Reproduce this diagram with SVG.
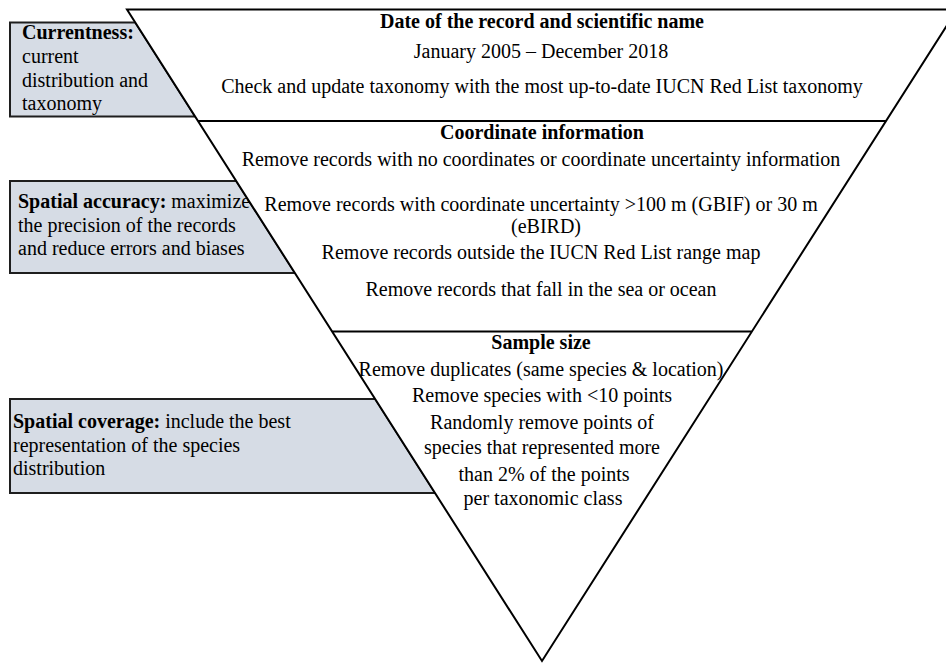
<svg xmlns="http://www.w3.org/2000/svg" width="946" height="665" viewBox="0 0 946 665" font-family="'Liberation Serif', 'Times New Roman', serif">
<style>
  text { font-family: "Liberation Serif", "Times New Roman", serif; font-size: 20px; fill: #000; }
  .b { font-weight: bold; }
  .c { text-anchor: middle; }
  .box { fill: #d6dce5; stroke: #1e1e1e; stroke-width: 2; }
  .edge { fill: none; stroke: #000; stroke-width: 2; }
</style>
<rect width="946" height="665" fill="#fff"/>

<g id="box-currentness">
  <polygon class="box" points="10,22.5 135.3,22.5 195.2,116.5 10,116.5"/>
  <text x="22" y="39" class="b">Currentness:</text>
  <text x="22" y="63">current</text>
  <text x="22" y="87">distribution and</text>
  <text x="22" y="110">taxonomy</text>
</g>

<g id="box-spatial-accuracy">
  <polygon class="box" points="10,181 236.3,181 295,273 10,273"/>
  <text x="18" y="208"><tspan class="b">Spatial accuracy:</tspan> maximize</text>
  <text x="18" y="232">the precision of the records</text>
  <text x="18" y="255">and reduce errors and biases</text>
</g>

<g id="box-spatial-coverage">
  <polygon class="box" points="10,399 375.3,399 435.2,493 10,493"/>
  <text x="13" y="428"><tspan class="b">Spatial coverage:</tspan> include the best</text>
  <text x="13" y="452">representation of the species</text>
  <text x="13" y="475">distribution</text>
</g>

<g id="funnel">
  <polygon class="edge" points="127,9.5 957,9.5 542,661" style="fill:#fff"/>
  <line class="edge" x1="198" y1="121" x2="886" y2="121"/>
  <line class="edge" x1="332.3" y1="331.5" x2="751.7" y2="331.5"/>
</g>

<g id="tier-date">
  <text x="542" y="28" class="c b">Date of the record and scientific name</text>
  <text x="541" y="58" class="c">January 2005 – December 2018</text>
  <text x="542" y="93" class="c">Check and update taxonomy with the most up-to-date IUCN Red List taxonomy</text>
</g>

<g id="tier-coordinates">
  <text x="542" y="139" class="c b">Coordinate information</text>
  <text x="541" y="166" class="c">Remove records with no coordinates or coordinate uncertainty information</text>
  <text x="541" y="211" class="c">Remove records with coordinate uncertainty &gt;100 m (GBIF) or 30 m</text>
  <text x="546" y="233" class="c">(eBIRD)</text>
  <text x="541" y="259" class="c">Remove records outside the IUCN Red List range map</text>
  <text x="541" y="296" class="c">Remove records that fall in the sea or ocean</text>
</g>

<g id="tier-sample">
  <text x="541" y="349" class="c b">Sample size</text>
  <text x="541" y="376" class="c">Remove duplicates (same species &amp; location)</text>
  <text x="542" y="402" class="c">Remove species with &lt;10 points</text>
  <text x="542" y="429" class="c">Randomly remove points of</text>
  <text x="542" y="454" class="c">species that represented more</text>
  <text x="544" y="481" class="c">than 2% of the points</text>
  <text x="543" y="505" class="c">per taxonomic class</text>
</g>
</svg>
